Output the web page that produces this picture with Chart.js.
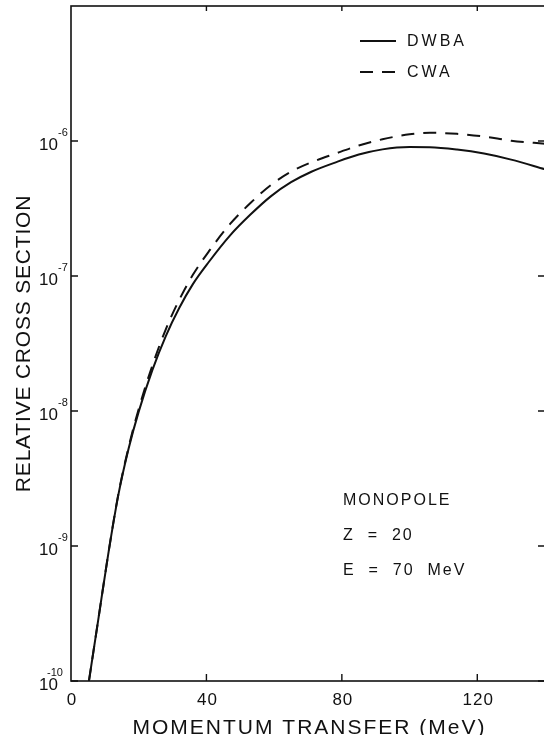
<!DOCTYPE html>
<html>
<head>
<meta charset="utf-8">
<script src="https://cdn.jsdelivr.net/npm/chart.js@4"></script>
<style>
html, body { margin: 0; padding: 0; background: #fff; overflow: hidden; }
</style>
</head>
<body>
<canvas id="Chart" width="548" height="735"></canvas>
<script>
// values (momentum transfer in MeV, relative cross section)
let momentum = [5.3, 8, 11, 14, 17, 20, 24, 28, 32, 36, 40.7, 47, 53, 59, 65, 71, 78, 85, 92, 100, 106, 114, 122, 130, 140]
let dwbaVal = [1.0e-10, 2.79e-10, 8.71e-10, 2.40e-9, 5.25e-9, 9.89e-9, 2.0e-8, 3.59e-8, 5.82e-8, 8.71e-8, 1.27e-7, 2.0e-7, 2.85e-7, 3.89e-7, 4.95e-7, 5.92e-7, 6.92e-7, 7.94e-7, 8.67e-7, 9.02e-7, 9.0e-7, 8.65e-7, 8.07e-7, 7.28e-7, 6.17e-7]
let cwaVal = [1.0e-10, 2.79e-10, 8.71e-10, 2.43e-9, 5.37e-9, 1.035e-8, 2.16e-8, 4.03e-8, 6.68e-8, 1.02e-7, 1.52e-7, 2.43e-7, 3.47e-7, 4.71e-7, 5.92e-7, 6.95e-7, 8.05e-7, 9.25e-7, 1.03e-6, 1.12e-6, 1.15e-6, 1.13e-6, 1.08e-6, 1.005e-6, 9.55e-7]

let xTicks = [0, 40, 80, 120]
let yTicks = [1e-10, 1e-9, 1e-8, 1e-7, 1e-6]
let yTickExp = ["-10", "-9", "-8", "-7", "-6"]
let seriesNames = ["DWBA", "CWA"]
let noteLines = ["MONOPOLE", "Z  =  20", "E  =  70  MeV"]
let xTitle = "MOMENTUM TRANSFER (MeV)"
let yTitle = "RELATIVE CROSS SECTION"

function pairs(xs, ys) {
	let out = []
	for (let i = 0; i < xs.length; i++) out.push({x: xs[i], y: ys[i]})
	return out
}

const FONT = "'Liberation Sans', Arial, sans-serif"

// axes frame, inward ticks, labels, legend and the note, drawn by hand
const decor = {
	id: "decor",
	afterDraw(chart) {
		const ctx = chart.ctx
		const a = chart.chartArea
		const xs = chart.scales.x
		const ys = chart.scales.y
		ctx.save()
		ctx.strokeStyle = "#111"
		ctx.fillStyle = "#111"
		ctx.lineWidth = 1.6
		ctx.strokeRect(a.left, a.top, a.right - a.left, a.bottom - a.top)

		ctx.lineWidth = 1.4
		ctx.beginPath()
		xTicks.forEach(v => {
			if (v == 0) return
			let px = xs.getPixelForValue(v)
			ctx.moveTo(px, a.bottom); ctx.lineTo(px, a.bottom - 7)
			ctx.moveTo(px, a.top); ctx.lineTo(px, a.top + 5)
		})
		yTicks.forEach(v => {
			let py = ys.getPixelForValue(v)
			ctx.moveTo(a.left, py); ctx.lineTo(a.left + 7, py)
			ctx.moveTo(a.right, py); ctx.lineTo(a.right - 7, py)
		})
		ctx.stroke()

		// x tick labels
		ctx.font = "17px " + FONT
		ctx.textAlign = "center"
		ctx.textBaseline = "middle"
		ctx.letterSpacing = "1px"
		xTicks.forEach(v => {
			ctx.fillText(String(v), xs.getPixelForValue(v) + 1, a.bottom + 19)
		})

		// y tick labels as 10 with superscript exponent
		yTicks.forEach((v, i) => {
			let py = ys.getPixelForValue(v)
			ctx.font = "17px " + FONT
			ctx.textAlign = "right"
			ctx.letterSpacing = "0px"
			ctx.fillText("10", 58, py + 4)
			ctx.font = "11px " + FONT
			ctx.textAlign = "left"
			ctx.fillText(yTickExp[i], i == 0 ? 47 : 58, py - 8)
		})

		// axis titles
		ctx.font = "21px " + FONT
		ctx.textAlign = "center"
		ctx.letterSpacing = "2px"
		ctx.fillText(xTitle, (a.left + 544) / 2 + 2, a.bottom + 47)
		ctx.save()
		ctx.translate(24, (a.top + a.bottom) / 2)
		ctx.rotate(-Math.PI / 2)
		ctx.letterSpacing = "0.8px"
		ctx.fillText(yTitle, 0, 0)
		ctx.restore()

		// legend
		ctx.font = "16px " + FONT
		ctx.textAlign = "left"
		ctx.letterSpacing = "3px"
		chart.data.datasets.forEach((ds, i) => {
			let ly = 41 + i * 31
			ctx.lineWidth = ds.borderWidth
			ctx.setLineDash(ds.borderDash || [])
			ctx.beginPath()
			ctx.moveTo(360, ly); ctx.lineTo(396, ly)
			ctx.stroke()
			ctx.setLineDash([])
			ctx.fillText(seriesNames[i], 407, ly + 1)
		})

		// annotation
		ctx.letterSpacing = "2px"
		noteLines.forEach((t, i) => {
			ctx.fillText(t, 343, 501 + i * 35)
		})
		ctx.restore()
	}
}

new Chart("Chart", {
	type: "scatter",
	data: {
		datasets: [
			{label: seriesNames[0], data: pairs(momentum, dwbaVal), showLine: true,
				borderColor: "#111", borderWidth: 2, pointRadius: 0, cubicInterpolationMode: "monotone"},
			{label: seriesNames[1], data: pairs(momentum, cwaVal), showLine: true,
				borderColor: "#111", borderWidth: 2, borderDash: [13, 9], pointRadius: 0, cubicInterpolationMode: "monotone"}
		]
	},
	options: {
		responsive: false,
		animation: false,
		layout: {padding: {left: 71, top: 6, right: 3, bottom: 54}},
		plugins: {legend: {display: false}, tooltip: {enabled: false}},
		scales: {
			x: {type: "linear", min: 0, max: 140, display: false},
			y: {type: "logarithmic", min: 1e-10, max: 1e-5, display: false}
		}
	},
	plugins: [decor]
})
</script>
</body>
</html>
